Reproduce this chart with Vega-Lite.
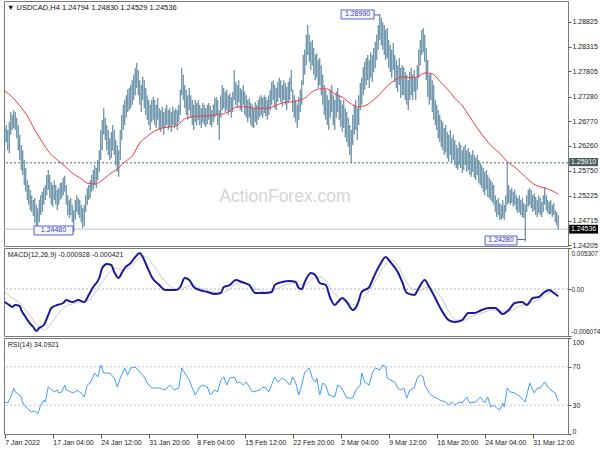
{
"$schema": "https://vega.github.io/schema/vega-lite/v6.json",
"padding": {"left": 0, "top": 0, "right": 0, "bottom": 0},
"spacing": 2,
"bounds": "flush",
"config": {
"view": {"stroke": "#7a7a7a", "strokeWidth": 1},
"font": "Liberation Sans",
"axis": {"labelFont": "Liberation Sans", "labelFontSize": 7, "labelColor": "#222222", "tickColor": "#555555", "domain": false, "grid": false, "title": null, "labelOverlap": false}
},
"datasets": {
"one": [{}],
"bars": [
{"i":0,"h":1.2663,"l":1.2628},{"i":1,"h":1.2669,"l":1.2634},{"i":2,"h":1.2659,"l":1.2617},{"i":3,"h":1.2675,"l":1.2611},{"i":4,"h":1.2696,"l":1.2649},{"i":5,"h":1.2690,"l":1.2659},{"i":6,"h":1.2700,"l":1.2663},{"i":7,"h":1.2696,"l":1.2659},{"i":8,"h":1.2684,"l":1.2642},{"i":9,"h":1.2669,"l":1.2617},
{"i":10,"h":1.2649,"l":1.2597},{"i":11,"h":1.2628,"l":1.2576},{"i":12,"h":1.2617,"l":1.2566},{"i":13,"h":1.2597,"l":1.2545},{"i":14,"h":1.2580,"l":1.2531},{"i":15,"h":1.2555,"l":1.2514},{"i":16,"h":1.2545,"l":1.2504},{"i":17,"h":1.2535,"l":1.2493},{"i":18,"h":1.2524,"l":1.2489},{"i":19,"h":1.2514,"l":1.2481},
{"i":20,"h":1.2518,"l":1.2468},{"i":21,"h":1.2504,"l":1.2458},{"i":22,"h":1.2497,"l":1.2452},{"i":23,"h":1.2514,"l":1.2468},{"i":24,"h":1.2524,"l":1.2483},{"i":25,"h":1.2531,"l":1.2489},{"i":26,"h":1.2539,"l":1.2504},{"i":27,"h":1.2545,"l":1.2514},{"i":28,"h":1.2566,"l":1.2524},{"i":29,"h":1.2576,"l":1.2535},
{"i":30,"h":1.2566,"l":1.2518},{"i":31,"h":1.2551,"l":1.2504},{"i":32,"h":1.2545,"l":1.2500},{"i":33,"h":1.2555,"l":1.2514},{"i":34,"h":1.2545,"l":1.2504},{"i":35,"h":1.2535,"l":1.2493},{"i":36,"h":1.2539,"l":1.2504},{"i":37,"h":1.2549,"l":1.2514},{"i":38,"h":1.2551,"l":1.2518},{"i":39,"h":1.2560,"l":1.2524},
{"i":40,"h":1.2564,"l":1.2531},{"i":41,"h":1.2545,"l":1.2504},{"i":42,"h":1.2524,"l":1.2483},{"i":43,"h":1.2514,"l":1.2477},{"i":44,"h":1.2518,"l":1.2483},{"i":45,"h":1.2504,"l":1.2468},{"i":46,"h":1.2493,"l":1.2448},{"i":47,"h":1.2514,"l":1.2473},{"i":48,"h":1.2524,"l":1.2489},{"i":49,"h":1.2518,"l":1.2483},
{"i":50,"h":1.2514,"l":1.2477},{"i":51,"h":1.2504,"l":1.2468},{"i":52,"h":1.2497,"l":1.2456},{"i":53,"h":1.2504,"l":1.2460},{"i":54,"h":1.2524,"l":1.2489},{"i":55,"h":1.2539,"l":1.2504},{"i":56,"h":1.2545,"l":1.2514},{"i":57,"h":1.2555,"l":1.2518},{"i":58,"h":1.2566,"l":1.2531},{"i":59,"h":1.2576,"l":1.2535},
{"i":60,"h":1.2586,"l":1.2545},{"i":61,"h":1.2580,"l":1.2539},{"i":62,"h":1.2597,"l":1.2555},{"i":63,"h":1.2617,"l":1.2572},{"i":64,"h":1.2659,"l":1.2597},{"i":65,"h":1.2680,"l":1.2617},{"i":66,"h":1.2704,"l":1.2649},{"i":67,"h":1.2684,"l":1.2638},{"i":68,"h":1.2669,"l":1.2617},{"i":69,"h":1.2659,"l":1.2607},
{"i":70,"h":1.2642,"l":1.2597},{"i":71,"h":1.2655,"l":1.2601},{"i":72,"h":1.2669,"l":1.2617},{"i":73,"h":1.2659,"l":1.2607},{"i":74,"h":1.2638,"l":1.2586},{"i":75,"h":1.2628,"l":1.2572},{"i":76,"h":1.2617,"l":1.2562},{"i":77,"h":1.2659,"l":1.2597},{"i":78,"h":1.2690,"l":1.2638},{"i":79,"h":1.2711,"l":1.2659},
{"i":80,"h":1.2721,"l":1.2669},{"i":81,"h":1.2731,"l":1.2684},{"i":82,"h":1.2742,"l":1.2696},{"i":83,"h":1.2746,"l":1.2700},{"i":84,"h":1.2752,"l":1.2704},{"i":85,"h":1.2762,"l":1.2711},{"i":86,"h":1.2773,"l":1.2721},{"i":87,"h":1.2787,"l":1.2731},{"i":88,"h":1.2798,"l":1.2746},{"i":89,"h":1.2783,"l":1.2731},
{"i":90,"h":1.2762,"l":1.2711},{"i":91,"h":1.2752,"l":1.2696},{"i":92,"h":1.2769,"l":1.2721},{"i":93,"h":1.2762,"l":1.2704},{"i":94,"h":1.2746,"l":1.2690},{"i":95,"h":1.2731,"l":1.2680},{"i":96,"h":1.2721,"l":1.2669},{"i":97,"h":1.2711,"l":1.2659},{"i":98,"h":1.2721,"l":1.2675},{"i":99,"h":1.2727,"l":1.2680},
{"i":100,"h":1.2721,"l":1.2669},{"i":101,"h":1.2711,"l":1.2663},{"i":102,"h":1.2725,"l":1.2680},{"i":103,"h":1.2704,"l":1.2659},{"i":104,"h":1.2700,"l":1.2655},{"i":105,"h":1.2707,"l":1.2663},{"i":106,"h":1.2696,"l":1.2649},{"i":107,"h":1.2704,"l":1.2663},{"i":108,"h":1.2711,"l":1.2669},{"i":109,"h":1.2700,"l":1.2659},
{"i":110,"h":1.2704,"l":1.2665},{"i":111,"h":1.2696,"l":1.2655},{"i":112,"h":1.2707,"l":1.2669},{"i":113,"h":1.2700,"l":1.2663},{"i":114,"h":1.2704,"l":1.2667},{"i":115,"h":1.2700,"l":1.2659},{"i":116,"h":1.2711,"l":1.2675},{"i":117,"h":1.2742,"l":1.2690},{"i":118,"h":1.2787,"l":1.2731},{"i":119,"h":1.2773,"l":1.2721},
{"i":120,"h":1.2752,"l":1.2704},{"i":121,"h":1.2742,"l":1.2690},{"i":122,"h":1.2731,"l":1.2680},{"i":123,"h":1.2746,"l":1.2700},{"i":124,"h":1.2731,"l":1.2684},{"i":125,"h":1.2721,"l":1.2669},{"i":126,"h":1.2711,"l":1.2659},{"i":127,"h":1.2721,"l":1.2675},{"i":128,"h":1.2715,"l":1.2669},{"i":129,"h":1.2721,"l":1.2680},
{"i":130,"h":1.2711,"l":1.2669},{"i":131,"h":1.2704,"l":1.2663},{"i":132,"h":1.2715,"l":1.2675},{"i":133,"h":1.2711,"l":1.2669},{"i":134,"h":1.2704,"l":1.2665},{"i":135,"h":1.2711,"l":1.2671},{"i":136,"h":1.2715,"l":1.2680},{"i":137,"h":1.2709,"l":1.2669},{"i":138,"h":1.2700,"l":1.2665},{"i":139,"h":1.2711,"l":1.2675},
{"i":140,"h":1.2725,"l":1.2684},{"i":141,"h":1.2727,"l":1.2690},{"i":142,"h":1.2721,"l":1.2669},{"i":143,"h":1.2700,"l":1.2638},{"i":144,"h":1.2731,"l":1.2684},{"i":145,"h":1.2752,"l":1.2700},{"i":146,"h":1.2746,"l":1.2704},{"i":147,"h":1.2738,"l":1.2696},{"i":148,"h":1.2742,"l":1.2700},{"i":149,"h":1.2731,"l":1.2690},
{"i":150,"h":1.2735,"l":1.2696},{"i":151,"h":1.2727,"l":1.2684},{"i":152,"h":1.2738,"l":1.2696},{"i":153,"h":1.2783,"l":1.2721},{"i":154,"h":1.2758,"l":1.2711},{"i":155,"h":1.2752,"l":1.2704},{"i":156,"h":1.2762,"l":1.2717},{"i":157,"h":1.2746,"l":1.2700},{"i":158,"h":1.2742,"l":1.2696},{"i":159,"h":1.2752,"l":1.2711},
{"i":160,"h":1.2738,"l":1.2690},{"i":161,"h":1.2731,"l":1.2684},{"i":162,"h":1.2721,"l":1.2675},{"i":163,"h":1.2725,"l":1.2684},{"i":164,"h":1.2715,"l":1.2669},{"i":165,"h":1.2711,"l":1.2665},{"i":166,"h":1.2704,"l":1.2663},{"i":167,"h":1.2717,"l":1.2675},{"i":168,"h":1.2711,"l":1.2669},{"i":169,"h":1.2721,"l":1.2680},
{"i":170,"h":1.2727,"l":1.2686},{"i":171,"h":1.2731,"l":1.2690},{"i":172,"h":1.2725,"l":1.2684},{"i":173,"h":1.2731,"l":1.2694},{"i":174,"h":1.2727,"l":1.2688},{"i":175,"h":1.2721,"l":1.2680},{"i":176,"h":1.2731,"l":1.2690},{"i":177,"h":1.2742,"l":1.2700},{"i":178,"h":1.2758,"l":1.2711},{"i":179,"h":1.2762,"l":1.2721},
{"i":180,"h":1.2752,"l":1.2704},{"i":181,"h":1.2746,"l":1.2700},{"i":182,"h":1.2758,"l":1.2717},{"i":183,"h":1.2767,"l":1.2725},{"i":184,"h":1.2762,"l":1.2717},{"i":185,"h":1.2752,"l":1.2707},{"i":186,"h":1.2762,"l":1.2721},{"i":187,"h":1.2756,"l":1.2711},{"i":188,"h":1.2748,"l":1.2700},{"i":189,"h":1.2758,"l":1.2715},
{"i":190,"h":1.2767,"l":1.2721},{"i":191,"h":1.2783,"l":1.2738},{"i":192,"h":1.2742,"l":1.2696},{"i":193,"h":1.2731,"l":1.2684},{"i":194,"h":1.2721,"l":1.2675},{"i":195,"h":1.2711,"l":1.2663},{"i":196,"h":1.2727,"l":1.2680},{"i":197,"h":1.2742,"l":1.2696},{"i":198,"h":1.2762,"l":1.2711},{"i":199,"h":1.2814,"l":1.2752},
{"i":200,"h":1.2825,"l":1.2773},{"i":201,"h":1.2856,"l":1.2793},{"i":202,"h":1.2876,"l":1.2814},{"i":203,"h":1.2856,"l":1.2800},{"i":204,"h":1.2841,"l":1.2783},{"i":205,"h":1.2845,"l":1.2793},{"i":206,"h":1.2829,"l":1.2773},{"i":207,"h":1.2814,"l":1.2762},{"i":208,"h":1.2818,"l":1.2767},{"i":209,"h":1.2804,"l":1.2746},
{"i":210,"h":1.2808,"l":1.2752},{"i":211,"h":1.2793,"l":1.2731},{"i":212,"h":1.2773,"l":1.2711},{"i":213,"h":1.2752,"l":1.2690},{"i":214,"h":1.2742,"l":1.2680},{"i":215,"h":1.2731,"l":1.2669},{"i":216,"h":1.2721,"l":1.2659},{"i":217,"h":1.2742,"l":1.2684},{"i":218,"h":1.2752,"l":1.2696},{"i":219,"h":1.2731,"l":1.2669},
{"i":220,"h":1.2721,"l":1.2659},{"i":221,"h":1.2738,"l":1.2684},{"i":222,"h":1.2746,"l":1.2696},{"i":223,"h":1.2731,"l":1.2680},{"i":224,"h":1.2721,"l":1.2665},{"i":225,"h":1.2711,"l":1.2655},{"i":226,"h":1.2721,"l":1.2663},{"i":227,"h":1.2704,"l":1.2644},{"i":228,"h":1.2696,"l":1.2634},{"i":229,"h":1.2684,"l":1.2624},
{"i":230,"h":1.2669,"l":1.2607},{"i":231,"h":1.2659,"l":1.2591},{"i":232,"h":1.2690,"l":1.2628},{"i":233,"h":1.2711,"l":1.2649},{"i":234,"h":1.2721,"l":1.2659},{"i":235,"h":1.2704,"l":1.2638},{"i":236,"h":1.2731,"l":1.2669},{"i":237,"h":1.2756,"l":1.2700},{"i":238,"h":1.2767,"l":1.2711},{"i":239,"h":1.2789,"l":1.2731},
{"i":240,"h":1.2800,"l":1.2742},{"i":241,"h":1.2808,"l":1.2752},{"i":242,"h":1.2814,"l":1.2762},{"i":243,"h":1.2804,"l":1.2746},{"i":244,"h":1.2820,"l":1.2767},{"i":245,"h":1.2814,"l":1.2758},{"i":246,"h":1.2829,"l":1.2779},{"i":247,"h":1.2841,"l":1.2787},{"i":248,"h":1.2856,"l":1.2804},{"i":249,"h":1.2876,"l":1.2825},
{"i":250,"h":1.2899,"l":1.2845},{"i":251,"h":1.2891,"l":1.2835},{"i":252,"h":1.2882,"l":1.2825},{"i":253,"h":1.2876,"l":1.2814},{"i":254,"h":1.2866,"l":1.2804},{"i":255,"h":1.2870,"l":1.2808},{"i":256,"h":1.2845,"l":1.2787},{"i":257,"h":1.2835,"l":1.2779},{"i":258,"h":1.2825,"l":1.2767},{"i":259,"h":1.2839,"l":1.2783},
{"i":260,"h":1.2814,"l":1.2758},{"i":261,"h":1.2804,"l":1.2746},{"i":262,"h":1.2793,"l":1.2738},{"i":263,"h":1.2808,"l":1.2752},{"i":264,"h":1.2787,"l":1.2725},{"i":265,"h":1.2793,"l":1.2731},{"i":266,"h":1.2789,"l":1.2731},{"i":267,"h":1.2779,"l":1.2721},{"i":268,"h":1.2773,"l":1.2711},{"i":269,"h":1.2762,"l":1.2700},
{"i":270,"h":1.2779,"l":1.2721},{"i":271,"h":1.2787,"l":1.2731},{"i":272,"h":1.2773,"l":1.2721},{"i":273,"h":1.2783,"l":1.2738},{"i":274,"h":1.2767,"l":1.2721},{"i":275,"h":1.2793,"l":1.2742},{"i":276,"h":1.2825,"l":1.2767},{"i":277,"h":1.2845,"l":1.2793},{"i":278,"h":1.2866,"l":1.2814},{"i":279,"h":1.2870,"l":1.2820},
{"i":280,"h":1.2856,"l":1.2800},{"i":281,"h":1.2829,"l":1.2762},{"i":282,"h":1.2804,"l":1.2727},{"i":283,"h":1.2773,"l":1.2711},{"i":284,"h":1.2777,"l":1.2721},{"i":285,"h":1.2762,"l":1.2696},{"i":286,"h":1.2752,"l":1.2680},{"i":287,"h":1.2721,"l":1.2669},{"i":288,"h":1.2711,"l":1.2659},{"i":289,"h":1.2700,"l":1.2642},
{"i":290,"h":1.2690,"l":1.2634},{"i":291,"h":1.2680,"l":1.2624},{"i":292,"h":1.2675,"l":1.2617},{"i":293,"h":1.2663,"l":1.2607},{"i":294,"h":1.2669,"l":1.2613},{"i":295,"h":1.2655,"l":1.2601},{"i":296,"h":1.2649,"l":1.2593},{"i":297,"h":1.2659,"l":1.2607},{"i":298,"h":1.2642,"l":1.2591},{"i":299,"h":1.2649,"l":1.2597},
{"i":300,"h":1.2638,"l":1.2586},{"i":301,"h":1.2628,"l":1.2580},{"i":302,"h":1.2622,"l":1.2576},{"i":303,"h":1.2634,"l":1.2586},{"i":304,"h":1.2628,"l":1.2580},{"i":305,"h":1.2617,"l":1.2570},{"i":306,"h":1.2624,"l":1.2576},{"i":307,"h":1.2628,"l":1.2586},{"i":308,"h":1.2617,"l":1.2572},{"i":309,"h":1.2622,"l":1.2576},
{"i":310,"h":1.2613,"l":1.2566},{"i":311,"h":1.2607,"l":1.2562},{"i":312,"h":1.2617,"l":1.2572},{"i":313,"h":1.2607,"l":1.2560},{"i":314,"h":1.2601,"l":1.2555},{"i":315,"h":1.2607,"l":1.2566},{"i":316,"h":1.2597,"l":1.2549},{"i":317,"h":1.2591,"l":1.2545},{"i":318,"h":1.2586,"l":1.2539},{"i":319,"h":1.2580,"l":1.2531},
{"i":320,"h":1.2572,"l":1.2524},{"i":321,"h":1.2576,"l":1.2535},{"i":322,"h":1.2566,"l":1.2520},{"i":323,"h":1.2560,"l":1.2518},{"i":324,"h":1.2555,"l":1.2514},{"i":325,"h":1.2551,"l":1.2510},{"i":326,"h":1.2545,"l":1.2504},{"i":327,"h":1.2524,"l":1.2489},{"i":328,"h":1.2514,"l":1.2479},{"i":329,"h":1.2518,"l":1.2483},
{"i":330,"h":1.2508,"l":1.2473},{"i":331,"h":1.2504,"l":1.2473},{"i":332,"h":1.2514,"l":1.2477},{"i":333,"h":1.2504,"l":1.2473},{"i":334,"h":1.2524,"l":1.2489},{"i":335,"h":1.2591,"l":1.2504},{"i":336,"h":1.2545,"l":1.2508},{"i":337,"h":1.2535,"l":1.2504},{"i":338,"h":1.2539,"l":1.2508},{"i":339,"h":1.2531,"l":1.2500},
{"i":340,"h":1.2535,"l":1.2504},{"i":341,"h":1.2524,"l":1.2493},{"i":342,"h":1.2518,"l":1.2487},{"i":343,"h":1.2524,"l":1.2489},{"i":344,"h":1.2514,"l":1.2483},{"i":345,"h":1.2518,"l":1.2479},{"i":346,"h":1.2508,"l":1.2477},{"i":347,"h":1.2504,"l":1.2428},{"i":348,"h":1.2524,"l":1.2489},{"i":349,"h":1.2535,"l":1.2500},
{"i":350,"h":1.2539,"l":1.2504},{"i":351,"h":1.2535,"l":1.2497},{"i":352,"h":1.2524,"l":1.2489},{"i":353,"h":1.2528,"l":1.2493},{"i":354,"h":1.2520,"l":1.2483},{"i":355,"h":1.2514,"l":1.2479},{"i":356,"h":1.2524,"l":1.2487},{"i":357,"h":1.2518,"l":1.2483},{"i":358,"h":1.2510,"l":1.2479},{"i":359,"h":1.2524,"l":1.2489},
{"i":360,"h":1.2541,"l":1.2504},{"i":361,"h":1.2524,"l":1.2493},{"i":362,"h":1.2514,"l":1.2487},{"i":363,"h":1.2510,"l":1.2483},{"i":364,"h":1.2514,"l":1.2485},{"i":365,"h":1.2504,"l":1.2479},{"i":366,"h":1.2508,"l":1.2483},{"i":367,"h":1.2493,"l":1.2468},{"i":368,"h":1.2489,"l":1.2462},{"i":369,"h":1.2483,"l":1.24529}
],
"ma": [
{"i":0,"m":1.2740},{"i":5,"m":1.2727},{"i":10,"m":1.2709},{"i":15,"m":1.2688},{"i":20,"m":1.2659},{"i":25,"m":1.2634},{"i":30,"m":1.2611},{"i":35,"m":1.2597},{"i":40,"m":1.2584},{"i":45,"m":1.2570},
{"i":50,"m":1.2560},{"i":55,"m":1.2549},{"i":60,"m":1.2547},{"i":65,"m":1.2555},{"i":70,"m":1.2568},{"i":75,"m":1.2578},{"i":80,"m":1.2593},{"i":85,"m":1.2605},{"i":90,"m":1.2632},{"i":95,"m":1.2646},
{"i":100,"m":1.2657},{"i":105,"m":1.2663},{"i":110,"m":1.2665},{"i":115,"m":1.2669},{"i":120,"m":1.2682},{"i":125,"m":1.2686},{"i":130,"m":1.2688},{"i":135,"m":1.2688},{"i":140,"m":1.2690},{"i":145,"m":1.2692},
{"i":150,"m":1.2698},{"i":155,"m":1.2707},{"i":160,"m":1.2707},{"i":165,"m":1.2704},{"i":170,"m":1.2704},{"i":175,"m":1.2704},{"i":180,"m":1.2709},{"i":185,"m":1.2715},{"i":190,"m":1.2717},{"i":195,"m":1.2719},
{"i":200,"m":1.2725},{"i":205,"m":1.2738},{"i":210,"m":1.2744},{"i":215,"m":1.2744},{"i":220,"m":1.2733},{"i":225,"m":1.2727},{"i":230,"m":1.2715},{"i":235,"m":1.2707},{"i":240,"m":1.2709},{"i":245,"m":1.2719},
{"i":250,"m":1.2733},{"i":255,"m":1.2750},{"i":260,"m":1.2762},{"i":265,"m":1.2769},{"i":270,"m":1.2767},{"i":275,"m":1.2769},{"i":280,"m":1.2777},{"i":285,"m":1.2775},{"i":290,"m":1.2760},{"i":295,"m":1.2744},
{"i":300,"m":1.2725},{"i":305,"m":1.2709},{"i":310,"m":1.2686},{"i":315,"m":1.2663},{"i":320,"m":1.2642},{"i":325,"m":1.2624},{"i":330,"m":1.2611},{"i":335,"m":1.2593},{"i":340,"m":1.2582},{"i":345,"m":1.2568},
{"i":350,"m":1.2553},{"i":355,"m":1.2543},{"i":360,"m":1.2539},{"i":365,"m":1.2533},{"i":369,"m":1.2526}
],
"macd": [
{"i":0,"v":-0.00168},{"i":3,"v":-0.00207},{"i":5,"v":-0.00232},{"i":7,"v":-0.00207},{"i":10,"v":-0.00219},{"i":11,"v":-0.00271},{"i":13,"v":-0.00336},{"i":16,"v":-0.00426},{"i":19,"v":-0.00491},{"i":21,"v":-0.00543},
{"i":23,"v":-0.00504},{"i":26,"v":-0.00465},{"i":29,"v":-0.00336},{"i":31,"v":-0.00245},{"i":35,"v":-0.00207},{"i":39,"v":-0.00181},{"i":41,"v":-0.00142},{"i":45,"v":-0.00168},{"i":49,"v":-0.00142},{"i":53,"v":-0.00168},
{"i":56,"v":-0.00077},{"i":59,"v":0.00026},{"i":63,"v":0.00143},{"i":65,"v":0.00272},{"i":68,"v":0.00324},{"i":71,"v":0.00311},{"i":73,"v":0.00220},{"i":76,"v":0.00143},{"i":78,"v":0.00207},{"i":80,"v":0.00272},
{"i":84,"v":0.00337},{"i":87,"v":0.00414},{"i":90,"v":0.00466},{"i":92,"v":0.00414},{"i":95,"v":0.00285},{"i":98,"v":0.00156},{"i":103,"v":0.00052},{"i":107,"v":-0.00013},{"i":114,"v":-0.00013},{"i":117,"v":0.00026},
{"i":120,"v":0.00143},{"i":123,"v":0.00117},{"i":126,"v":0.00026},{"i":130,"v":-0.00013},{"i":135,"v":-0.00038},{"i":140,"v":-0.00064},{"i":144,"v":-0.00051},{"i":146,"v":0.00026},{"i":150,"v":0.00052},{"i":154,"v":0.00117},
{"i":158,"v":0.00091},{"i":163,"v":0.00052},{"i":167,"v":-0.00051},{"i":174,"v":-0.00051},{"i":178,"v":-0.00038},{"i":180,"v":0.00052},{"i":185,"v":0.00091},{"i":190,"v":0.00104},{"i":194,"v":0.00091},{"i":196,"v":0.00013},
{"i":198,"v":0.0},{"i":200,"v":0.00091},{"i":204,"v":0.00207},{"i":207,"v":0.00181},{"i":210,"v":0.00078},{"i":214,"v":0.00052},{"i":217,"v":-0.00116},{"i":220,"v":-0.00207},{"i":222,"v":-0.00168},{"i":225,"v":-0.00116},
{"i":228,"v":-0.00168},{"i":232,"v":-0.00271},{"i":235,"v":-0.00207},{"i":238,"v":-0.00038},{"i":243,"v":0.00026},{"i":246,"v":0.00156},{"i":250,"v":0.00311},{"i":254,"v":0.00414},{"i":257,"v":0.00350},{"i":262,"v":0.00220},
{"i":265,"v":0.00091},{"i":268,"v":-0.00051},{"i":273,"v":-0.00077},{"i":276,"v":0.00013},{"i":280,"v":0.00117},{"i":283,"v":0.00026},{"i":286,"v":-0.00077},{"i":290,"v":-0.00232},{"i":296,"v":-0.00401},{"i":300,"v":-0.00426},
{"i":305,"v":-0.00401},{"i":309,"v":-0.00310},{"i":313,"v":-0.00310},{"i":318,"v":-0.00271},{"i":323,"v":-0.00245},{"i":327,"v":-0.00245},{"i":332,"v":-0.00323},{"i":336,"v":-0.00271},{"i":340,"v":-0.00181},{"i":345,"v":-0.00168},
{"i":348,"v":-0.00207},{"i":352,"v":-0.00116},{"i":356,"v":-0.00103},{"i":360,"v":-0.00038},{"i":363,"v":-0.00013},{"i":366,"v":-0.00051},{"i":369,"v":-0.000928}
],
"signal": [
{"i":0,"v":-0.00038},{"i":5,"v":-0.00116},{"i":10,"v":-0.00181},{"i":15,"v":-0.00297},{"i":19,"v":-0.00401},{"i":23,"v":-0.00491},{"i":27,"v":-0.00530},{"i":30,"v":-0.00465},{"i":35,"v":-0.00336},{"i":39,"v":-0.00245},
{"i":45,"v":-0.00194},{"i":51,"v":-0.00168},{"i":56,"v":-0.00142},{"i":60,"v":-0.00051},{"i":65,"v":0.00091},{"i":70,"v":0.00220},{"i":74,"v":0.00272},{"i":78,"v":0.00246},{"i":83,"v":0.00272},{"i":87,"v":0.00350},
{"i":92,"v":0.00427},{"i":95,"v":0.00401},{"i":100,"v":0.00285},{"i":105,"v":0.00143},{"i":110,"v":0.00039},{"i":116,"v":-0.00013},{"i":122,"v":0.00039},{"i":126,"v":0.00052},{"i":132,"v":0.0},{"i":138,"v":-0.00038},
{"i":144,"v":-0.00051},{"i":148,"v":-0.00026},{"i":153,"v":0.00052},{"i":158,"v":0.00078},{"i":163,"v":0.00065},{"i":168,"v":0.0},{"i":175,"v":-0.00038},{"i":180,"v":-0.00013},{"i":185,"v":0.00039},{"i":192,"v":0.00078},
{"i":196,"v":0.00052},{"i":200,"v":0.00052},{"i":205,"v":0.00130},{"i":210,"v":0.00156},{"i":214,"v":0.00104},{"i":218,"v":-0.00013},{"i":223,"v":-0.00116},{"i":228,"v":-0.00168},{"i":233,"v":-0.00207},{"i":237,"v":-0.00142},
{"i":242,"v":-0.00051},{"i":246,"v":0.00065},{"i":250,"v":0.00207},{"i":255,"v":0.00337},{"i":258,"v":0.00376},{"i":263,"v":0.00272},{"i":267,"v":0.00117},{"i":272,"v":0.0},{"i":277,"v":-0.00013},{"i":282,"v":0.00026},
{"i":286,"v":-0.00013},{"i":292,"v":-0.00142},{"i":296,"v":-0.00297},{"i":302,"v":-0.00401},{"i":307,"v":-0.00401},{"i":312,"v":-0.00349},{"i":318,"v":-0.00310},{"i":325,"v":-0.00271},{"i":332,"v":-0.00284},{"i":337,"v":-0.00284},
{"i":343,"v":-0.00219},{"i":348,"v":-0.00194},{"i":354,"v":-0.00155},{"i":359,"v":-0.00103},{"i":364,"v":-0.00038},{"i":369,"v":-0.000421}
],
"rsi": [
{"i":0,"v":33.3},{"i":2,"v":32.3},{"i":4,"v":38.5},{"i":6,"v":47.9},{"i":7,"v":43.8},{"i":10,"v":40.6},{"i":11,"v":38.5},{"i":12,"v":32.3},{"i":13,"v":30.2},{"i":16,"v":25.0},
{"i":18,"v":22.9},{"i":20,"v":24.0},{"i":22,"v":20.8},{"i":24,"v":30.2},{"i":26,"v":35.4},{"i":27,"v":33.3},{"i":29,"v":49.0},{"i":30,"v":47.9},{"i":33,"v":43.8},{"i":35,"v":45.8},
{"i":36,"v":42.7},{"i":38,"v":43.8},{"i":40,"v":51.0},{"i":41,"v":45.8},{"i":44,"v":43.8},{"i":46,"v":42.7},{"i":48,"v":45.8},{"i":50,"v":43.8},{"i":53,"v":38.5},{"i":55,"v":51.0},
{"i":57,"v":53.1},{"i":60,"v":63.5},{"i":62,"v":59.4},{"i":64,"v":71.9},{"i":66,"v":63.5},{"i":70,"v":63.5},{"i":73,"v":58.3},{"i":75,"v":49.0},{"i":77,"v":58.3},{"i":80,"v":68.8},
{"i":82,"v":61.5},{"i":84,"v":68.8},{"i":87,"v":69.8},{"i":90,"v":64.6},{"i":93,"v":59.4},{"i":95,"v":53.1},{"i":98,"v":47.9},{"i":103,"v":47.9},{"i":107,"v":45.8},{"i":110,"v":51.0},
{"i":113,"v":45.8},{"i":116,"v":47.9},{"i":118,"v":68.8},{"i":120,"v":63.5},{"i":123,"v":56.3},{"i":125,"v":47.9},{"i":127,"v":40.6},{"i":130,"v":49.0},{"i":132,"v":51.0},{"i":135,"v":49.0},
{"i":137,"v":40.6},{"i":140,"v":45.8},{"i":142,"v":43.8},{"i":144,"v":56.3},{"i":146,"v":59.4},{"i":148,"v":51.0},{"i":150,"v":58.3},{"i":153,"v":59.4},{"i":155,"v":53.1},{"i":157,"v":54.2},
{"i":159,"v":51.0},{"i":161,"v":54.2},{"i":165,"v":43.8},{"i":170,"v":45.8},{"i":172,"v":49.0},{"i":174,"v":47.9},{"i":176,"v":43.8},{"i":180,"v":59.4},{"i":182,"v":54.2},{"i":185,"v":58.3},
{"i":187,"v":56.3},{"i":190,"v":51.0},{"i":192,"v":59.4},{"i":194,"v":53.1},{"i":196,"v":40.6},{"i":198,"v":51.0},{"i":200,"v":64.6},{"i":203,"v":68.8},{"i":205,"v":58.3},{"i":207,"v":54.2},
{"i":208,"v":58.3},{"i":210,"v":40.6},{"i":212,"v":53.1},{"i":214,"v":51.0},{"i":216,"v":40.6},{"i":220,"v":38.5},{"i":222,"v":51.0},{"i":224,"v":49.0},{"i":226,"v":43.8},{"i":228,"v":37.5},
{"i":232,"v":37.5},{"i":234,"v":45.8},{"i":237,"v":51.0},{"i":238,"v":63.5},{"i":240,"v":54.2},{"i":243,"v":51.0},{"i":245,"v":63.5},{"i":247,"v":68.8},{"i":250,"v":66.7},{"i":252,"v":71.9},
{"i":254,"v":69.8},{"i":255,"v":58.3},{"i":257,"v":56.3},{"i":260,"v":54.2},{"i":262,"v":47.9},{"i":264,"v":45.8},{"i":266,"v":47.9},{"i":268,"v":37.5},{"i":270,"v":45.8},{"i":273,"v":47.9},
{"i":275,"v":58.3},{"i":277,"v":61.5},{"i":279,"v":59.4},{"i":280,"v":51.0},{"i":283,"v":42.7},{"i":286,"v":38.5},{"i":288,"v":37.5},{"i":290,"v":35.4},{"i":294,"v":33.3},{"i":296,"v":30.2},
{"i":298,"v":33.3},{"i":300,"v":30.2},{"i":303,"v":33.3},{"i":305,"v":32.3},{"i":308,"v":38.5},{"i":310,"v":32.3},{"i":314,"v":33.3},{"i":317,"v":38.5},{"i":320,"v":32.3},{"i":322,"v":38.5},
{"i":324,"v":28.1},{"i":326,"v":30.2},{"i":328,"v":27.1},{"i":330,"v":25.0},{"i":332,"v":32.3},{"i":333,"v":28.1},{"i":335,"v":47.9},{"i":337,"v":43.8},{"i":340,"v":42.7},{"i":344,"v":38.5},
{"i":347,"v":33.3},{"i":348,"v":40.6},{"i":350,"v":53.1},{"i":353,"v":42.7},{"i":355,"v":47.9},{"i":357,"v":47.9},{"i":360,"v":54.2},{"i":362,"v":49.0},{"i":364,"v":45.8},{"i":367,"v":42.7},
{"i":369,"v":34.1}
]
},
"vconcat": [
{
"width": 564, "height": 245,
"layer": [
{"data": {"name": "one"}, "mark": {"type": "text", "font": "Liberation Sans", "fontSize": 17.5, "color": "#d4d4d4", "align": "center", "baseline": "middle"},
 "encoding": {"x": {"datum": 186.8, "type": "quantitative", "scale": {"domain": [-0.5, 375.5], "nice": false, "zero": false}, "axis": null}, "y": {"datum": 1.25202, "type": "quantitative", "scale": {"domain": [1.24188, 1.29259], "nice": false, "zero": false}, "axis": {"orient": "right", "values": [1.24205, 1.24715, 1.25225, 1.2575, 1.2626, 1.2677, 1.2728, 1.27805, 1.28315, 1.28825], "tickCount": 30, "format": ".5f", "tickSize": 3, "labelPadding": 1, "labelOverlap": false, "labelBound": false}}, "text": {"value": "ActionForex.com"}}},
{"data": {"name": "one"}, "mark": {"type": "rule", "color": "#4f6d6d", "strokeWidth": 1, "strokeDash": [2, 2]}, "encoding": {"y": {"datum": 1.2591, "type": "quantitative"}}},
{"data": {"name": "one"}, "mark": {"type": "rule", "color": "#c4c4c4", "strokeWidth": 1}, "encoding": {"y": {"datum": 1.24536, "type": "quantitative"}}},
{"data": {"name": "bars"}, "mark": {"type": "rule", "color": "#5a87a1", "strokeWidth": 1.15},
 "encoding": {"x": {"field": "i", "type": "quantitative", "axis": null}, "y": {"field": "h", "type": "quantitative"}, "y2": {"field": "l"}}},
{"data": {"name": "ma"}, "mark": {"type": "line", "color": "#f03c3c", "strokeWidth": 1, "interpolate": "monotone"},
 "encoding": {"x": {"field": "i", "type": "quantitative", "axis": null}, "y": {"field": "m", "type": "quantitative"}}},
{"data": {"name": "one"}, "mark": {"type": "rect", "fill": "#f6f6ff", "stroke": "#5f5fd0", "strokeWidth": 1}, "encoding": {"x": {"datum": 224.2, "type": "quantitative", "axis": null}, "x2": {"datum": 246.2}, "y": {"datum": 1.29073, "type": "quantitative"}, "y2": {"datum": 1.28887}}},
{"data": {"name": "one"}, "mark": {"type": "rule", "color": "#5f5fd0", "strokeWidth": 1}, "encoding": {"x": {"datum": 246.2, "type": "quantitative", "axis": null}, "x2": {"datum": 250}, "y": {"datum": 1.2897, "type": "quantitative"}}},
{"data": {"name": "one"}, "mark": {"type": "text", "font": "Liberation Sans", "fontSize": 7, "color": "#3c3cb8", "align": "center", "baseline": "middle"}, "encoding": {"x": {"datum": 235.2, "type": "quantitative", "axis": null}, "y": {"datum": 1.2898, "type": "quantitative"}, "text": {"value": "1.28990"}}},
{"data": {"name": "one"}, "mark": {"type": "rect", "fill": "#f6f6ff", "stroke": "#5f5fd0", "strokeWidth": 1}, "encoding": {"x": {"datum": 19.5, "type": "quantitative", "axis": null}, "x2": {"datum": 45.5}, "y": {"datum": 1.24602, "type": "quantitative"}, "y2": {"datum": 1.24416}}},
{"data": {"name": "one"}, "mark": {"type": "text", "font": "Liberation Sans", "fontSize": 7, "color": "#3c3cb8", "align": "center", "baseline": "middle"}, "encoding": {"x": {"datum": 32.5, "type": "quantitative", "axis": null}, "y": {"datum": 1.24509, "type": "quantitative"}, "text": {"value": "1.24480"}}},
{"data": {"name": "one"}, "mark": {"type": "rect", "fill": "#f6f6ff", "stroke": "#5f5fd0", "strokeWidth": 1}, "encoding": {"x": {"datum": 320.2, "type": "quantitative", "axis": null}, "x2": {"datum": 341.5}, "y": {"datum": 1.24395, "type": "quantitative"}, "y2": {"datum": 1.24209}}},
{"data": {"name": "one"}, "mark": {"type": "rule", "color": "#5f5fd0", "strokeWidth": 1}, "encoding": {"x": {"datum": 341.5, "type": "quantitative", "axis": null}, "x2": {"datum": 347}, "y": {"datum": 1.24322, "type": "quantitative"}}},
{"data": {"name": "one"}, "mark": {"type": "text", "font": "Liberation Sans", "fontSize": 7, "color": "#3c3cb8", "align": "center", "baseline": "middle"}, "encoding": {"x": {"datum": 330.8, "type": "quantitative", "axis": null}, "y": {"datum": 1.24302, "type": "quantitative"}, "text": {"value": "1.24280"}}},
{"data": {"name": "one"}, "mark": {"type": "rect", "fill": "#4b5d5d"}, "encoding": {"x": {"datum": 376.3, "type": "quantitative", "axis": null}, "x2": {"datum": 395.5}, "y": {"datum": 1.2601, "type": "quantitative"}, "y2": {"datum": 1.2584}}},
{"data": {"name": "one"}, "mark": {"type": "text", "font": "Liberation Sans", "fontSize": 7, "color": "#ffffff", "align": "center", "baseline": "middle"}, "encoding": {"x": {"datum": 385.9, "type": "quantitative", "axis": null}, "y": {"datum": 1.2592, "type": "quantitative"}, "text": {"value": "1.25910"}}},
{"data": {"name": "one"}, "mark": {"type": "rect", "fill": "#000000"}, "encoding": {"x": {"datum": 376.3, "type": "quantitative", "axis": null}, "x2": {"datum": 395.5}, "y": {"datum": 1.24627, "type": "quantitative"}, "y2": {"datum": 1.24445}}},
{"data": {"name": "one"}, "mark": {"type": "text", "font": "Liberation Sans", "fontSize": 7, "color": "#ffffff", "align": "center", "baseline": "middle"}, "encoding": {"x": {"datum": 385.9, "type": "quantitative", "axis": null}, "y": {"datum": 1.24536, "type": "quantitative"}, "text": {"value": "1.24536"}}},
{"data": {"name": "one"}, "mark": {"type": "text", "font": "Liberation Sans", "fontSize": 7.5, "color": "#111111", "align": "left", "baseline": "middle"}, "encoding": {"x": {"datum": 1.5, "type": "quantitative", "axis": null}, "y": {"datum": 1.29114, "type": "quantitative"}, "text": {"value": "▼ USDCAD,H4  1.24794 1.24830 1.24529 1.24536"}}}
]
},
{
"width": 564, "height": 88,
"layer": [
{"data": {"name": "one"}, "mark": {"type": "rule", "color": "#b4b4b4", "strokeWidth": 1, "strokeDash": [2, 2]},
 "encoding": {"y": {"datum": 0, "type": "quantitative", "scale": {"domain": [-0.006074, 0.005307], "nice": false, "zero": false}, "axis": {"orient": "right", "values": [-0.006074, 0, 0.005307], "tickCount": 30, "labelExpr": "datum.value > 0.001 ? '0.005307' : (datum.value < -0.001 ? '-0.006074' : '0.00')", "tickSize": 3, "labelPadding": 0, "labelFontSize": 6.4, "labelFlush": true, "labelFlushOffset": -2, "labelOverlap": false, "labelBound": false}}}},
{"data": {"name": "signal"}, "mark": {"type": "line", "color": "#c9c9c9", "strokeWidth": 1, "interpolate": "monotone"},
 "encoding": {"x": {"field": "i", "type": "quantitative", "scale": {"domain": [-0.5, 375.5], "nice": false, "zero": false}, "axis": null}, "y": {"field": "v", "type": "quantitative"}}},
{"data": {"name": "macd"}, "mark": {"type": "line", "color": "#1a1a9e", "strokeWidth": 2, "interpolate": "monotone"},
 "encoding": {"x": {"field": "i", "type": "quantitative", "axis": null}, "y": {"field": "v", "type": "quantitative"}}},
{"data": {"name": "one"}, "mark": {"type": "text", "font": "Liberation Sans", "fontSize": 7, "color": "#222222", "align": "left", "baseline": "middle"}, "encoding": {"x": {"datum": 2, "type": "quantitative", "axis": null}, "y": {"datum": 0.0044, "type": "quantitative"}, "text": {"value": "MACD(12,26,9) -0.000928 -0.000421"}}}
]
},
{
"width": 564, "height": 96,
"layer": [
{"data": {"name": "one"}, "mark": {"type": "rule", "color": "#c4c4c4", "strokeWidth": 1, "strokeDash": [2, 2]},
 "encoding": {"y": {"datum": 70, "type": "quantitative", "scale": {"domain": [0, 100], "nice": false}, "axis": {"orient": "right", "values": [0, 30, 70, 100], "tickCount": 30, "tickSize": 3, "labelPadding": 1, "labelFlush": true, "labelOverlap": false, "labelBound": false}}}},
{"data": {"name": "one"}, "mark": {"type": "rule", "color": "#c4c4c4", "strokeWidth": 1, "strokeDash": [2, 2]}, "encoding": {"y": {"datum": 30, "type": "quantitative"}}},
{"data": {"name": "rsi"}, "mark": {"type": "line", "color": "#3f9dff", "strokeWidth": 1},
 "encoding": {"x": {"field": "i", "type": "quantitative", "scale": {"domain": [-0.5, 375.5], "nice": false, "zero": false}, "axis": {"orient": "bottom", "values": [0, 32, 64, 96, 128, 160, 192, 224, 256, 288, 320, 352], "tickCount": 30, "labelExpr": "['7 Jan 2022','17 Jan 04:00','24 Jan 12:00','31 Jan 20:00','8 Feb 04:00','15 Feb 12:00','22 Feb 20:00','2 Mar 04:00','9 Mar 12:00','16 Mar 20:00','24 Mar 04:00','31 Mar 12:00'][round(datum.value/32)]", "labelAlign": "left", "tickSize": 4, "labelPadding": 0, "labelFlush": false, "labelOverlap": false}}, "y": {"field": "v", "type": "quantitative"}}},
{"data": {"name": "one"}, "mark": {"type": "text", "font": "Liberation Sans", "fontSize": 7, "color": "#222222", "align": "left", "baseline": "middle"}, "encoding": {"x": {"datum": 2, "type": "quantitative"}, "y": {"datum": 92.7, "type": "quantitative"}, "text": {"value": "RSI(14) 34.0921"}}}
]
}
]
}
